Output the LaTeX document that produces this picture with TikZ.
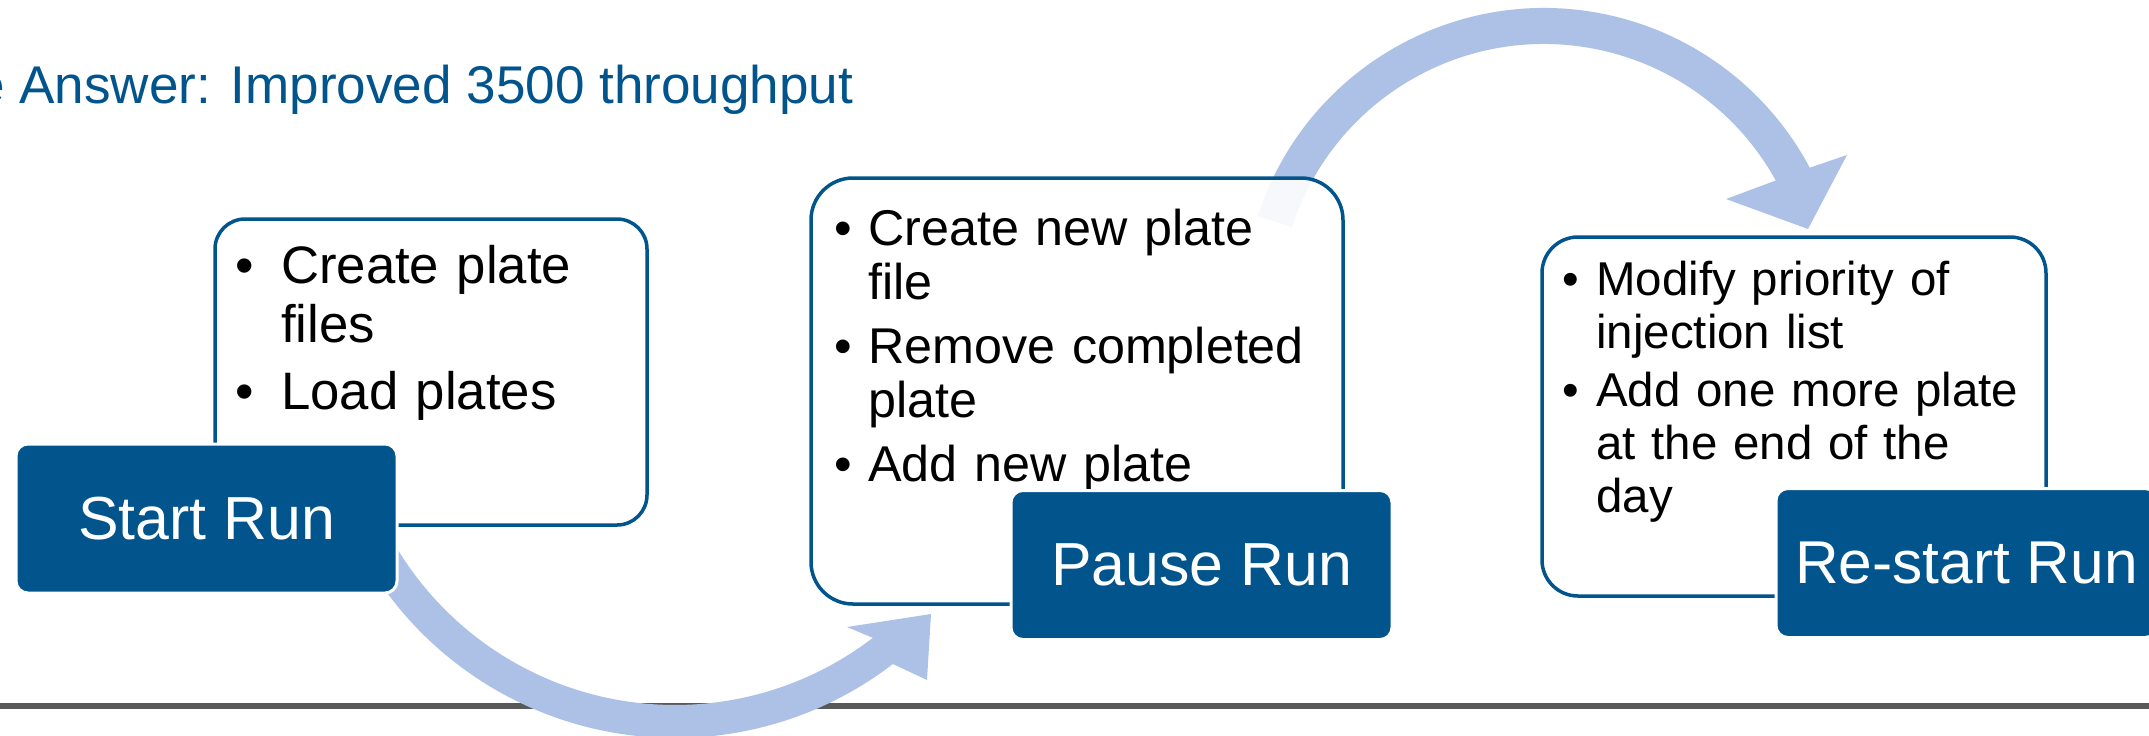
\documentclass[tikz,border=0pt]{standalone}
\usepackage{fontspec}
\setmainfont{Liberation Sans}
\usepackage{tikz}
\usetikzlibrary{calc}
\definecolor{stepblue}{RGB}{2,84,140}
\definecolor{arrowblue}{RGB}{173,193,230}
\definecolor{rulegray}{RGB}{89,89,89}
\tikzstyle{stepbox}=[rectangle,rounded corners=0.12cm,fill=stepblue,draw=white,line width=0.03cm,minimum width=3.81cm,minimum height=1.49cm,text=white,inner sep=0pt]
\tikzstyle{notebox}=[rectangle,draw=stepblue,line width=0.035cm,fill=white,fill opacity=0.9,inner sep=0pt]
\tikzstyle{notes}=[anchor=north west,inner sep=0pt,text width=5cm]
\tikzstyle{bend arrow}=[fill=arrowblue]
\newlength{\bulind}
\newcommand{\bulitem}[1]{\noindent\hangindent=\bulind\hangafter=1\makebox[\bulind][l]{\textbullet}#1\par}

\begin{document}
\begin{tikzpicture}
    \useasboundingbox (0,0) rectangle (21.49,-7.35);
    % rule under the steps
    \coordinate (ruleL) at (0,-7.06);
    \coordinate (ruleR) at (21.49,-7.06);
    \draw[rulegray,line width=0.06cm] (ruleL) -- (ruleR);
    % curved arrows
    \coordinate (c1) at (6.75,-3.80);
    \coordinate (c2) at (15.44,-3.09);
    \fill[bend arrow] ($(c1)+(210:3.58)$) arc[start angle=210,end angle=307.5,radius=3.58]
        -- (9.27,-6.80) -- (9.31,-6.14) -- (8.47,-6.27)
        -- ($(c1)+(307.5:3.25)$) arc[start angle=307.5,end angle=210,radius=3.25] -- cycle;
    \fill[bend arrow] ($(c2)+(162:3.01)$) arc[start angle=162,end angle=28,radius=3.01]
        -- (18.47,-1.55) -- (18.08,-2.29) -- (17.26,-1.99)
        -- ($(c2)+(29:2.65)$) arc[start angle=29,end angle=162,radius=2.65] -- cycle;
    % note boxes
    \foreach \pos/\name/\w/\h/\rad in {{(4.31,-3.72)/note1/4.32/3.06/0.30}, {(10.77,-3.91)/note2/5.32/4.26/0.42}, {(17.94,-4.165)/note3/5.04/3.59/0.36}}
        \node[notebox,minimum width=\w cm,minimum height=\h cm,rounded corners=\rad cm] (\name) at \pos {};
    \node[notes,font=\fontsize{15}{16.8}\selectfont] (list1) at (2.344,-2.446)
        {\setlength{\bulind}{0.46cm}\bulitem{Create plate\newline files}\vspace{2.3pt}\bulitem{Load plates}};
    \node[notes,font=\fontsize{14.3}{15.4}\selectfont] (list2) at (8.335,-2.085)
        {\setlength{\bulind}{0.34cm}\bulitem{Create new plate\newline file}\vspace{2.8pt}\bulitem{Remove completed\newline plate}\vspace{2.8pt}\bulitem{Add new plate}};
    \node[notes,font=\fontsize{13.5}{15.1}\selectfont] (list3) at (15.616,-2.60)
        {\setlength{\bulind}{0.34cm}\bulitem{Modify priority of\newline injection list}\vspace{1.4pt}\bulitem{Add one more plate\newline at the end of the\newline day}};
    % steps
    \foreach \pos/\name/\size/\label in {{(2.065,-5.185)/start/17.3/Start Run}, {(12.015,-5.65)/pause/17.3/Pause Run}, {(19.665,-5.63)/restart/17.2/Re-start Run}}
        \node[stepbox,font=\fontsize{\size}{\size}\selectfont] (\name) at \pos {\label};
    \node[anchor=base east,inner sep=0pt,text=stepblue,font=\fontsize{15.1}{18}\selectfont] (title) at (8.54,-1.03) {e Answer: Improved 3500 throughput};
\end{tikzpicture}
\end{document}
